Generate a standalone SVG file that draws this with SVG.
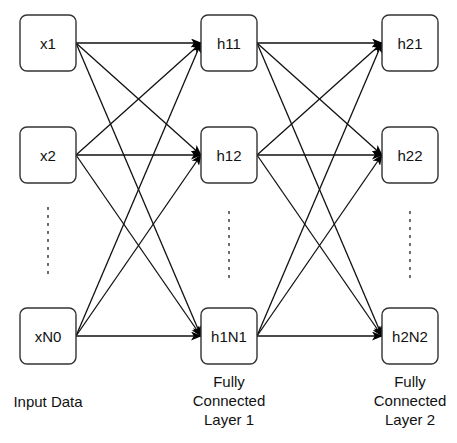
<svg xmlns="http://www.w3.org/2000/svg" width="457" height="443" viewBox="0 0 457 443">
<defs>
<marker id="arr" markerWidth="11" markerHeight="9" refX="10" refY="4.5" orient="auto" markerUnits="userSpaceOnUse">
<path d="M0,0 L11,4.5 L0,9 L2.8,4.5 z" fill="#000"/>
</marker>
<style>
.node rect{fill:#fff;stroke:#333;stroke-width:1.4}
.node text{font-family:"Liberation Sans",Arial,sans-serif;font-size:15px;fill:#111;text-anchor:middle}
.edge{stroke:#111;stroke-width:1.3;fill:none;marker-end:url(#arr)}
.dots{stroke:#333;stroke-width:1.4;stroke-dasharray:3 5}
.lbl{font-family:"Liberation Sans",Arial,sans-serif;font-size:15px;fill:#111;text-anchor:middle}
</style>
</defs>
<rect width="457" height="443" fill="#fff"/>
<g id="connectors">
<line class="edge" x1="76" y1="43" x2="201" y2="43"/>
<line class="edge" x1="76" y1="43" x2="201" y2="155"/>
<line class="edge" x1="76" y1="43" x2="201" y2="336"/>
<line class="edge" x1="76" y1="155" x2="201" y2="43"/>
<line class="edge" x1="76" y1="155" x2="201" y2="155"/>
<line class="edge" x1="76" y1="155" x2="201" y2="336"/>
<line class="edge" x1="76" y1="336" x2="201" y2="43"/>
<line class="edge" x1="76" y1="336" x2="201" y2="155"/>
<line class="edge" x1="76" y1="336" x2="201" y2="336"/>
<line class="edge" x1="257" y1="43" x2="382" y2="43"/>
<line class="edge" x1="257" y1="43" x2="382" y2="155"/>
<line class="edge" x1="257" y1="43" x2="382" y2="336"/>
<line class="edge" x1="257" y1="155" x2="382" y2="43"/>
<line class="edge" x1="257" y1="155" x2="382" y2="155"/>
<line class="edge" x1="257" y1="155" x2="382" y2="336"/>
<line class="edge" x1="257" y1="336" x2="382" y2="43"/>
<line class="edge" x1="257" y1="336" x2="382" y2="155"/>
<line class="edge" x1="257" y1="336" x2="382" y2="336"/>
</g>
<g id="x1" class="node"><rect x="20" y="15" width="56" height="56" rx="7"/><text x="48" y="49">x1</text></g>
<g id="x2" class="node"><rect x="20" y="127" width="56" height="56" rx="7"/><text x="48" y="161">x2</text></g>
<g id="xN0" class="node"><rect x="20" y="308" width="56" height="56" rx="7"/><text x="48" y="342">xN0</text></g>
<g id="h11" class="node"><rect x="201" y="15" width="56" height="56" rx="7"/><text x="229" y="49">h11</text></g>
<g id="h12" class="node"><rect x="201" y="127" width="56" height="56" rx="7"/><text x="229" y="161">h12</text></g>
<g id="h1N1" class="node"><rect x="201" y="308" width="56" height="56" rx="7"/><text x="229" y="342">h1N1</text></g>
<g id="h21" class="node"><rect x="382" y="15" width="56" height="56" rx="7"/><text x="410" y="49">h21</text></g>
<g id="h22" class="node"><rect x="382" y="127" width="56" height="56" rx="7"/><text x="410" y="161">h22</text></g>
<g id="h2N2" class="node"><rect x="382" y="308" width="56" height="56" rx="7"/><text x="410" y="342">h2N2</text></g>
<g id="ellipses">
<line class="dots" x1="48" y1="207" x2="48" y2="279"/>
<line class="dots" x1="229" y1="211" x2="229" y2="283"/>
<line class="dots" x1="410" y1="211" x2="410" y2="283"/>
</g>
<g id="labels">
<text class="lbl" x="48" y="407">Input Data</text>
<text class="lbl" x="229" y="387">Fully</text>
<text class="lbl" x="229" y="406">Connected</text>
<text class="lbl" x="229" y="425">Layer 1</text>
<text class="lbl" x="410" y="387">Fully</text>
<text class="lbl" x="410" y="406">Connected</text>
<text class="lbl" x="410" y="425">Layer 2</text>
</g>
</svg>
